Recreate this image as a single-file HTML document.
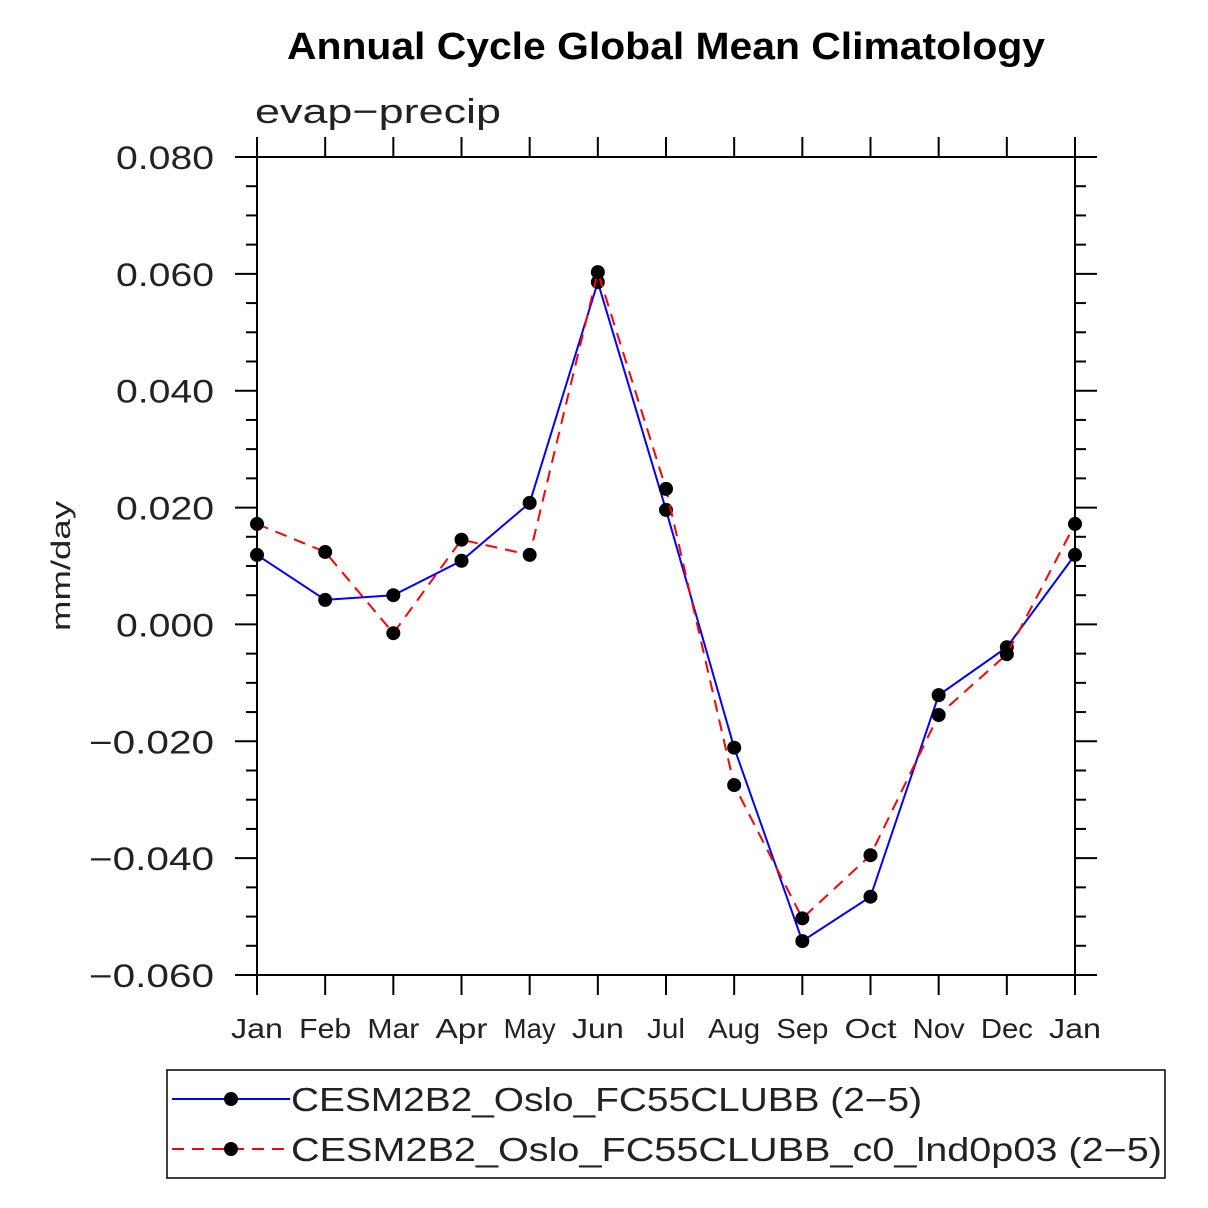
<!DOCTYPE html>
<html><head><meta charset="utf-8"><style>
html,body{margin:0;padding:0;background:#fff;width:1208px;height:1208px;overflow:hidden}
text{font-family:"Liberation Sans",sans-serif}
</style></head><body>
<svg id="chart" width="1208" height="1208" xmlns="http://www.w3.org/2000/svg">
<text x="287" y="59" textLength="758" lengthAdjust="spacingAndGlyphs" font-size="38" font-weight="bold">Annual Cycle Global Mean Climatology</text>
<text x="255" y="123" textLength="246" lengthAdjust="spacingAndGlyphs" font-size="34" fill="#222">evap−precip</text>
<text transform="translate(70,566) rotate(-90)" text-anchor="middle" textLength="130" lengthAdjust="spacingAndGlyphs" font-size="27" fill="#222">mm/day</text>
<g id="axes"></g>
<g id="series"></g>
<g>
<rect x="167" y="1070" width="998" height="108" fill="none" stroke="#000" stroke-width="1.5"/>
<g>
<line x1="172" y1="1099" x2="290" y2="1099" stroke="#00f" stroke-width="2"/>
<circle cx="231" cy="1099" r="7"/>
<text x="291" y="1111" textLength="631" lengthAdjust="spacingAndGlyphs" font-size="33" fill="#222">CESM2B2_Oslo_FC55CLUBB (2−5)</text></g>
<g>
<line x1="172" y1="1149" x2="290" y2="1149" stroke="#f00" stroke-width="2" stroke-dasharray="12,8"/>
<circle cx="231" cy="1149" r="7"/>
<text x="291" y="1161" textLength="871" lengthAdjust="spacingAndGlyphs" font-size="33" fill="#222">CESM2B2_Oslo_FC55CLUBB_c0_lnd0p03 (2−5)</text></g>
</g>
</svg>
<script>
const months=["Jan","Feb","Mar","Apr","May","Jun","Jul","Aug","Sep","Oct","Nov","Dec","Jan"];
const blueVals=[0.0119,0.0042,0.0050,0.0109,0.0208,0.0586,0.0196,-0.0211,-0.0542,-0.0466,-0.0121,-0.0039,0.0119];
const redVals=[0.0172,0.0124,-0.0015,0.0145,0.0119,0.0603,0.0232,-0.0275,-0.0503,-0.0395,-0.0155,-0.0051,0.0172];
const yTicks=[0.08,0.06,0.04,0.02,0,-0.02,-0.04,-0.06];
const yTickLabels=["0.080","0.060","0.040","0.020","0.000","−0.020","−0.040","−0.060"];
const X0=257,X1=1075,Y0=157,Y1=975,YMAX=0.08,YMIN=-0.06;
const xs=i=>X0+(X1-X0)*i/(months.length-1);
const ys=v=>Y0+(YMAX-v)/(YMAX-YMIN)*(Y1-Y0);
const NS="http://www.w3.org/2000/svg";
function mk(tag,attrs,parent){const e=document.createElementNS(NS,tag);for(const k in attrs)e.setAttribute(k,attrs[k]);parent.appendChild(e);return e;}
const ax=document.getElementById('axes');
let r=mk('rect',{x:X0,y:Y0,width:X1-X0,height:Y1-Y0,fill:'none',stroke:'#000','stroke-width':2},ax);


for(let v=-0.06;v<=0.0801;v+=0.005){
 const y=ys(v);const major=Math.abs(Math.round(v*1000)%20)<0.5;
 const L=major?22:11;
 let t=mk('line',{x1:X0-L,y1:y,x2:X0,y2:y,stroke:'#000','stroke-width':2},ax);
 
 
 let t2=mk('line',{x1:X1,y1:y,x2:X1+L,y2:y,stroke:'#000','stroke-width':2},ax);
 
 
}
yTicks.forEach((v,i)=>{
 const s=yTickLabels[i];
 let t=mk('text',{x:214,y:ys(v)+12,'text-anchor':'end','font-size':32,fill:'#222',textLength:s.length===5?98:125,lengthAdjust:'spacingAndGlyphs'},ax);
 t.textContent=s;
 
 
});
months.forEach((m,i)=>{
 const x=xs(i);
 let t=mk('line',{x1:x,y1:Y1,x2:x,y2:Y1+20,stroke:'#000','stroke-width':2},ax);
 
 
 let t2=mk('line',{x1:x,y1:Y0-20,x2:x,y2:Y0,stroke:'#000','stroke-width':2},ax);
 
 
 let l=mk('text',{x:x,y:1038,'text-anchor':'middle','font-size':28,fill:'#222',textLength:(m==="Jul"?38:52),lengthAdjust:'spacingAndGlyphs'},ax);
 l.textContent=m;
 
 
});
const sg=document.getElementById('series');
function drawSeries(vals,color,dash,name){
 const pts=vals.map((v,i)=>xs(i)+','+ys(v)).join(' ');
 let p=mk('polyline',{points:pts,fill:'none',stroke:color,'stroke-width':2,'stroke-dasharray':dash},sg);
 
 
 vals.forEach((v,i)=>{
  let c=mk('circle',{cx:xs(i),cy:ys(v),r:7,fill:'#000'},sg);
  
  
 });
}
drawSeries(blueVals,'#00f','none','blue-series');
drawSeries(redVals,'#f00','12,8','red-series');
</script>
</body></html>
